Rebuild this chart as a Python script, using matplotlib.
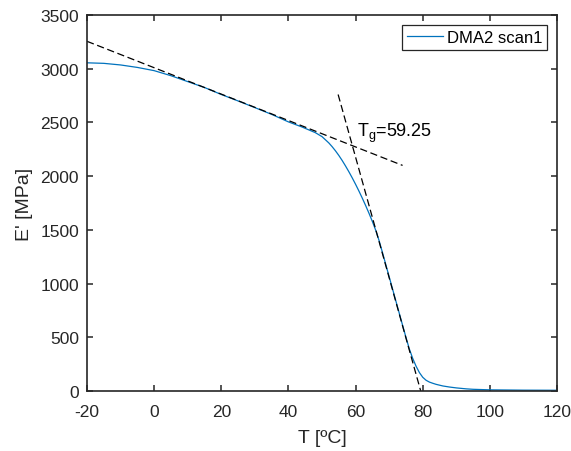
import matplotlib
matplotlib.use("Agg")
import matplotlib.pyplot as plt

# curva DMA
temp = [-20, -15, -10, -5, 0, 5, 10, 15, 20, 25, 30, 35, 40, 44, 48, 50, 52,
        53, 54, 55, 56, 57, 58, 59, 60, 61, 62, 63, 64, 65, 66, 67, 68, 69,
        70, 72, 74, 75, 76, 77, 78, 79, 80, 81, 82, 83, 84, 86, 88, 90, 93,
        95, 100, 110, 120]
modulo = [3055, 3050, 3035, 3012, 2982, 2935, 2880, 2825, 2760, 2700, 2638,
          2575, 2505, 2458, 2405, 2368, 2310, 2275, 2236, 2193, 2146, 2095,
          2041, 1984, 1924, 1861, 1795, 1726, 1654, 1578, 1496, 1400, 1290,
          1177, 1064, 838, 612, 500, 392, 305, 232, 172, 128, 100, 83, 72,
          62, 47, 37, 29, 20, 16, 11, 8, 7]

# retas tangentes
tang1_T = [-20, 74]
tang1_E = [3255, 2100]
tang2_T = [54.8, 79.4]
tang2_E = [2760, 0]
tg_valor = 59.25

plt.rcParams['font.family'] = ['Liberation Sans', 'DejaVu Sans']
plt.rcParams['mathtext.fontset'] = 'custom'
plt.rcParams['mathtext.rm'] = 'Liberation Sans'
plt.rcParams['mathtext.it'] = 'Liberation Sans'
plt.rcParams['axes.unicode_minus'] = False
cinza = '#262626'

fig = plt.figure(figsize=(5.71, 4.52), dpi=100)
ax = fig.add_axes([0.1524, 0.1327, 0.8231, 0.8319])

ax.plot(temp, modulo, color='#0072BD', lw=0.9, label='DMA2 scan1')
ax.plot(tang1_T, tang1_E, color='black', lw=0.9, dashes=(5.8, 2.9))
ax.plot(tang2_T, tang2_E, color='black', lw=0.9, dashes=(5.8, 2.9))
ax.text(60.4, 2410, r'T$_{\rm g}$=%.2f' % tg_valor, fontsize=13, color='black',
        va='center', ha='left')

ax.set_xlim(-20, 120)
ax.set_ylim(0, 3500)
ax.set_xticks(range(-20, 121, 20))
ax.set_yticks(range(0, 3501, 500))
ax.tick_params(direction='in', top=True, right=True, length=4.3, width=1.1,
               labelsize=12.5, colors=cinza)
ax.tick_params(axis='x', pad=9.5)
ax.tick_params(axis='y', pad=5.8)
for s in ax.spines.values():
    s.set_linewidth(1.2)
    s.set_color(cinza)
ax.set_xlabel('T [ºC]', fontsize=14, color=cinza, labelpad=7)
ax.set_ylabel("E' [MPa]", fontsize=14, color=cinza, labelpad=5)

leg = ax.legend(loc='upper right', fancybox=False, framealpha=1, fontsize=12,
                handlelength=2.2, handletextpad=0.2, borderaxespad=0.6,
                borderpad=0.3)
leg.get_frame().set_edgecolor(cinza)
leg.get_frame().set_linewidth(0.9)

fig.savefig('out.png', dpi=100)
